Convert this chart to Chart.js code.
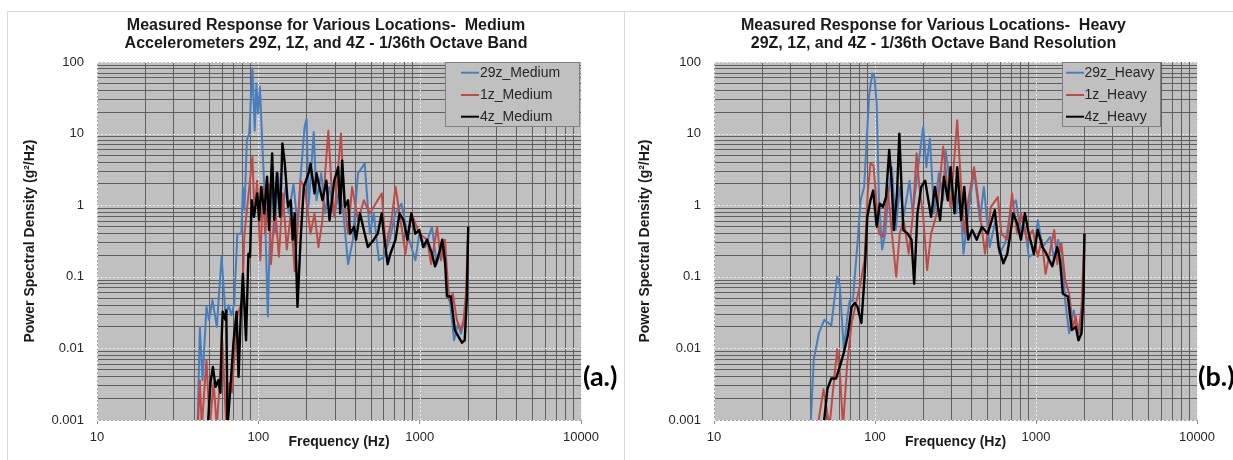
<!DOCTYPE html>
<html>
<head>
<meta charset="utf-8">
<title>Measured Response for Various Locations</title>
<script src="https://cdn.jsdelivr.net/npm/chart.js@4"></script>
<style>
  body { margin: 0; background: #fff; width: 1233px; height: 460px; overflow: hidden; position: relative; }
  .panel { position: absolute; top: 11px; height: 460px; border-top: 1px solid #d9d9d9; border-left: 1px solid #d9d9d9; background: #fff; }
  #panelA { left: 7px; width: 616px; }
  #panelB { left: 624px; width: 608px; }
  canvas { display: block; }
</style>
</head>
<body>
<div class="panel" id="panelA"><canvas id="chartA" width="616" height="448"></canvas></div>
<div class="panel" id="panelB"><canvas id="chartB" width="608" height="448"></canvas></div>
<script>
// ---- data: frequency (Hz) / PSD (g^2/Hz) pairs per accelerometer ----
const seriesNames = ['29z', '1z', '4z'];
const freqDecades = [10, 100, 1000, 10000];
const psdDecades = [0.001, 0.01, 0.1, 1, 10, 100];
const gridSteps = [1, 2, 3, 4, 5, 6, 7, 8, 9];

// Medium
const freqMed29 = [42, 43.4, 45.1, 47.7, 49.4, 52, 55.3, 59.2, 62.6, 65.5, 68.1, 70.9, 74.1, 78.5, 80.2, 82, 84.9, 87.8, 91.9, 95, 97.2, 99.5, 102.3, 105.8, 108.9, 114.5, 118.5, 123.3, 126.8, 132.6, 139.6, 147.6, 154.5, 165.3, 174.8, 182.8, 193.5, 199.1, 204.8, 214.4, 220.5, 229.3, 245.5, 259.5, 274.9, 295.6, 316.4, 336.5, 360, 385.5, 414.8, 456.4, 491, 519.6, 559.2, 598.9, 651, 708.4, 771.5, 839.7, 940, 994.6, 1082, 1191, 1275, 1380, 1476, 1562, 1633, 1729, 1799, 1902, 1991];
const psdMed29 = [0.0008, 0.020, 0.0036, 0.038, 0.025, 0.047, 0.020, 0.19, 0.028, 0.040, 0.029, 0.042, 0.40, 0.40, 1.8, 0.85, 8.1, 10, 81, 11, 50, 19, 45, 7.3, 1.8, 0.028, 0.62, 2.2, 0.40, 2.8, 0.69, 1.8, 0.77, 2.0, 0.50, 2.5, 12.4, 16, 0.95, 4.2, 10.5, 1.17, 2.8, 0.77, 1.8, 0.69, 1.6, 0.77, 0.15, 0.33, 2.8, 3.8, 0.40, 0.77, 0.17, 0.19, 0.33, 0.77, 1.05, 0.40, 0.17, 0.40, 0.26, 0.50, 0.15, 0.26, 0.10, 0.034, 0.013, 0.022, 0.016, 0.025, 0.11];

const freqMed1 = [42.2, 43.4, 44.6, 47.7, 50, 52.8, 55.3, 59.8, 63.3, 66.2, 68.5, 74.1, 79.4, 82, 91.9, 94.5, 98.4, 102.9, 107, 110.1, 116.5, 119.8, 126.8, 134.1, 141.8, 150.1, 158.9, 168, 182.8, 193.5, 210.7, 222.9, 235.9, 249.6, 259.5, 271.7, 284.1, 295.6, 325.3, 340.3, 360, 381.2, 414.8, 451.3, 491, 582, 615.8, 669.6, 708.4, 771.5, 816.3, 888.7, 994.6, 1113, 1178, 1282, 1356, 1435, 1518, 1606, 1699, 1799, 1871, 1936, 1991];
const psdMed1 = [0.0008, 0.0036, 0.0008, 0.0069, 0.0008, 0.0033, 0.0008, 0.013, 0.0008, 0.0033, 0.0024, 0.028, 0.047, 0.40, 4.7, 0.77, 2.2, 0.17, 1.8, 0.40, 2.0, 0.15, 0.95, 0.19, 1.46, 0.24, 0.77, 0.12, 2.2, 1.8, 0.40, 0.77, 0.26, 0.62, 2.8, 11, 1.8, 0.69, 10, 1.17, 0.40, 1.8, 0.62, 1.17, 0.77, 1.46, 0.26, 0.62, 1.8, 0.50, 0.21, 0.77, 0.40, 0.33, 0.15, 0.50, 0.17, 0.33, 0.047, 0.058, 0.025, 0.018, 0.025, 0.058, 0.34];

const freqMed4 = [48.6, 50.5, 52.3, 54.3, 56.5, 58.2, 59.2, 60.1, 62.6, 63.3, 64.4, 68.1, 70.1, 73.3, 75.4, 77.6, 80.2, 83.9, 86.8, 88.8, 90.9, 94, 98.4, 101.2, 104, 108.9, 113.3, 116.5, 121.8, 125.4, 130.4, 136.4, 141, 145.9, 152.7, 158.9, 163.4, 168, 174.8, 182.8, 191.3, 204.8, 210.7, 222.9, 229.3, 249.6, 264, 276.3, 295.6, 312.8, 321.7, 330.8, 344.2, 360, 370.5, 392, 403.3, 426.7, 456.4, 477.3, 519.6, 549.9, 582, 598.9, 632.9, 658.7, 708.4, 749.8, 793.6, 839.7, 888.7, 940, 994.6, 1052, 1113, 1191, 1246, 1318, 1380, 1435, 1476, 1562, 1652, 1729, 1829, 1902, 1958, 2000];
const psdMed4 = [0.0008, 0.0033, 0.0055, 0.0029, 0.0036, 0.0024, 0.013, 0.0325, 0.025, 0.034, 0.0008, 0.0045, 0.012, 0.0325, 0.004, 0.025, 0.11, 0.013, 0.21, 0.19, 1.17, 0.69, 1.46, 0.62, 1.8, 0.77, 2.5, 0.45, 5.3, 0.62, 2.8, 0.69, 7.3, 3.8, 0.95, 1.17, 0.33, 0.77, 0.038, 0.33, 1.8, 2.8, 3.8, 1.46, 2.8, 1.17, 2.2, 0.62, 2.2, 3.4, 0.77, 4.2, 0.95, 1.17, 0.40, 0.50, 0.33, 0.77, 0.40, 0.26, 0.33, 0.40, 0.77, 0.40, 0.15, 0.21, 0.33, 0.77, 0.62, 0.33, 0.77, 0.40, 0.45, 0.26, 0.33, 0.21, 0.14, 0.21, 0.33, 0.17, 0.053, 0.053, 0.018, 0.015, 0.012, 0.013, 0.047, 0.50];

// Heavy
const freqHvy29 = [39.8, 41.6, 44.8, 48.4, 53.5, 58.2, 60.5, 64, 67, 69.6, 72.8, 77.9, 81.4, 85.6, 92.1, 96.3, 99.1, 102.4, 105.9, 110.7, 115.8, 121.1, 127.4, 134.6, 142.5, 150.7, 163.8, 171.4, 188.6, 199.3, 208.5, 219.3, 232.9, 249.3, 265.1, 274.4, 294.6, 320.6, 335.3, 354.4, 375.1, 412.3, 448.6, 474.4, 515.6, 560.8, 593, 645, 701.5, 750.3, 806.7, 853.2, 902.3, 970, 1026, 1097, 1227, 1298, 1372, 1451, 1518, 1606, 1717, 1796, 1877, 1972];
const psdHvy29 = [0.0008, 0.0069, 0.0163, 0.025, 0.021, 0.10, 0.073, 0.0097, 0.025, 0.046, 0.046, 0.30, 1.17, 1.8, 36, 69, 65, 26, 1.17, 0.24, 0.40, 1.46, 3.4, 0.45, 1.8, 0.69, 2.2, 0.77, 4.7, 12.4, 3.4, 8.5, 0.77, 2.8, 1.17, 5.9, 1.8, 0.77, 1.8, 0.21, 0.62, 3.1, 0.62, 1.8, 0.26, 0.62, 0.21, 0.30, 0.95, 1.17, 0.40, 0.50, 0.19, 0.21, 0.62, 0.26, 0.36, 0.17, 0.33, 0.21, 0.047, 0.0163, 0.034, 0.018, 0.0163, 0.047];

const freqHvy1 = [44, 47.9, 52.1, 58.2, 60.5, 63.3, 67, 71.6, 77, 81.4, 86.1, 90.1, 93.7, 97.9, 101.9, 105.9, 112, 119.8, 123.9, 135.4, 142.5, 150.7, 162.1, 171.4, 181.3, 188.6, 199.3, 210.8, 222.9, 242.5, 265.1, 278.8, 294.6, 324.2, 342.7, 358.6, 379.4, 412.3, 448.6, 482.2, 524.4, 579.8, 609.8, 663.2, 709.6, 762.6, 806.7, 877.4, 954.4, 1026, 1085, 1147, 1298, 1357, 1436, 1518, 1606, 1698, 1766, 1835, 1918, 2000];
const psdHvy1 = [0.0008, 0.0027, 0.0008, 0.0097, 0.0045, 0.0008, 0.0056, 0.0227, 0.047, 0.082, 0.17, 1.46, 3.8, 3.6, 1.17, 0.40, 0.36, 1.8, 0.77, 0.10, 0.40, 0.62, 0.21, 0.69, 5.3, 1.8, 0.69, 0.124, 0.40, 0.77, 6.6, 2.2, 0.95, 15.4, 1.8, 0.40, 1.17, 3.4, 0.77, 0.21, 0.95, 1.3, 0.40, 0.33, 1.46, 0.40, 0.77, 0.33, 0.45, 0.19, 0.33, 0.11, 0.45, 0.15, 0.30, 0.09, 0.058, 0.020, 0.028, 0.0163, 0.038, 0.40];

const freqHvy4 = [47.9, 50.6, 53.5, 57.3, 60.5, 64, 67.7, 71.6, 74.9, 77.9, 82.3, 86.1, 89.6, 93.7, 97.4, 102.4, 107.1, 112, 117.1, 122.5, 126.7, 130.9, 137, 141.6, 149.9, 159.3, 168.5, 175.2, 183.4, 193.9, 205, 222.9, 235.5, 253.6, 268.1, 283.4, 294.6, 311.7, 324.2, 342.7, 358.6, 379.4, 401.2, 428.7, 461.3, 501.5, 554.6, 586.4, 627.1, 663.2, 693.4, 721.6, 762.6, 806.7, 853.2, 902.3, 970, 1026, 1097, 1160, 1262, 1357, 1411, 1468, 1578, 1668, 1766, 1835, 1918, 1972, 2000];
const psdHvy4 = [0.0008, 0.0027, 0.0038, 0.0038, 0.0056, 0.0087, 0.015, 0.038, 0.043, 0.038, 0.0227, 0.10, 0.69, 1.17, 1.6, 0.50, 1.05, 0.95, 1.3, 5.9, 2.2, 0.45, 1.46, 10, 0.45, 0.40, 0.33, 0.08, 0.77, 1.8, 2.2, 0.69, 1.8, 0.62, 2.5, 1.17, 3.4, 0.77, 3.4, 0.62, 1.8, 0.33, 0.45, 0.33, 0.50, 0.40, 0.85, 0.26, 0.154, 0.21, 0.40, 0.77, 0.56, 0.33, 0.77, 0.40, 0.21, 0.45, 0.26, 0.21, 0.14, 0.26, 0.17, 0.058, 0.053, 0.018, 0.020, 0.013, 0.0163, 0.058, 0.40];

const titleMedium = ['Measured Response for Various Locations-  Medium', 'Accelerometers 29Z, 1Z, and 4Z - 1/36th Octave Band'];
const titleHeavy = ['Measured Response for Various Locations-  Heavy', '29Z, 1Z, and 4Z - 1/36th Octave Band Resolution'];

// ---- styling ----
const FONT = '"Liberation Sans", Arial, sans-serif';
const lineColors = ['#4a7ebb', '#be4b48', '#000000'];
const lineWidths = [2, 2, 2.4];
Chart.defaults.font.family = FONT;

const points = (f, p) => f.map((x, i) => ({ x, y: p[i] }));
const isDecade = v => Math.abs(Math.log10(v) - Math.round(Math.log10(v))) < 1e-6;

// gray plot area
const plotBackground = {
  id: 'plotBackground',
  beforeDraw(chart) {
    const { ctx, chartArea: a } = chart;
    ctx.save();
    ctx.fillStyle = '#c0c0c0';
    ctx.fillRect(a.left, a.top, a.right - a.left, a.bottom - a.top);
    ctx.restore();
  }
};

// dotted light lines on every decade (the minor lines come from the scale grid)
const decadeLines = {
  id: 'decadeLines',
  beforeDatasetsDraw(chart) {
    const { ctx, chartArea: a, scales: { x, y } } = chart;
    ctx.save();
    ctx.strokeStyle = '#ececec';
    ctx.lineWidth = 1;
    ctx.setLineDash([2, 2]);
    ctx.beginPath();
    freqDecades.forEach(f => {
      const px = Math.round(x.getPixelForValue(f)) + 0.5;
      ctx.moveTo(px, a.top); ctx.lineTo(px, a.bottom);
    });
    psdDecades.forEach(v => {
      const py = Math.round(y.getPixelForValue(v)) + 0.5;
      ctx.moveTo(a.left, py); ctx.lineTo(a.right, py);
    });
    ctx.stroke();
    ctx.restore();
  }
};

// two-line heading, centred on the panel rather than on the plot
const panelTitle = {
  id: 'panelTitle',
  afterDraw(chart, args, opts) {
    const { ctx } = chart;
    ctx.save();
    ctx.font = 'bold 16px ' + FONT;
    ctx.fillStyle = '#1a1a1a';
    ctx.textAlign = 'center';
    ctx.textBaseline = 'middle';
    opts.lines.forEach((t, i) => ctx.fillText(t, opts.x, opts.y + i * 18.4));
    ctx.restore();
  }
};

// boxed legend inside the plot, Excel style
const boxLegend = {
  id: 'boxLegend',
  afterDatasetsDraw(chart, args, opts) {
    const { ctx, chartArea: a } = chart;
    const x = a.right - opts.rightGap - opts.width;
    const y = a.top;
    ctx.save();
    ctx.fillStyle = '#c0c0c0';
    ctx.fillRect(x, y, opts.width, opts.height);
    ctx.strokeStyle = '#7f7f7f';
    ctx.lineWidth = 1;
    ctx.strokeRect(Math.round(x) + 0.5, Math.round(y) + 0.5, opts.width - 1, opts.height - 1);
    ctx.font = '14px ' + FONT;
    ctx.textBaseline = 'middle';
    chart.data.datasets.forEach((ds, i) => {
      const ry = y + opts.rows[i];
      ctx.strokeStyle = ds.borderColor;
      ctx.lineWidth = 2;
      ctx.beginPath();
      ctx.moveTo(x + opts.sample[0], ry);
      ctx.lineTo(x + opts.sample[1], ry);
      ctx.stroke();
      ctx.fillStyle = '#262626';
      ctx.fillText(ds.label, x + opts.textX, ry);
    });
    ctx.restore();
  }
};

// "(a.)" / "(b.)" panel tag
const panelTag = {
  id: 'panelTag',
  afterDraw(chart, args, opts) {
    const { ctx } = chart;
    ctx.save();
    ctx.font = 'bold 27px Lato, "Open Sans", sans-serif';
    ctx.fillStyle = '#000';
    ctx.textBaseline = 'middle';
    ctx.fillText(opts.text, opts.x, opts.y);
    ctx.restore();
  }
};

function logTicks(decades) {
  const ticks = [];
  decades.forEach((d, i) => {
    if (i === decades.length - 1) { ticks.push({ value: d, major: true }); return; }
    gridSteps.forEach(s => ticks.push({ value: +(s * d).toPrecision(6), major: s === 1 }));
  });
  return ticks;
}

function decadeLabel(v) {
  return isDecade(v) ? String(+v.toPrecision(3)) : '';
}

function makeChart(id, cfg) {
  const datasets = cfg.series.map((s, i) => ({
    label: seriesNames[i] + cfg.suffix,
    data: points(s[0], s[1]),
    borderColor: lineColors[i],
    borderWidth: lineWidths[i],
    pointRadius: 0,
    tension: 0,
    fill: false,
    borderJoinStyle: 'round',
    order: 3 - i
  }));

  const gridColor = c => (c.tick && isDecade(c.tick.value)) ? 'rgba(0,0,0,0)' : '#5f5f5f';

  return new Chart(document.getElementById(id), {
    type: 'line',
    data: { datasets },
    plugins: [plotBackground, decadeLines, boxLegend, panelTitle, panelTag],
    options: {
      responsive: false,
      animation: false,
      devicePixelRatio: 1,
      layout: { padding: { left: 0, right: cfg.padRight, top: 50, bottom: 0 } },
      plugins: {
        legend: { display: false },
        tooltip: { enabled: false },
        title: { display: false },
        panelTitle: cfg.title,
        boxLegend: cfg.legend,
        panelTag: cfg.tag
      },
      scales: {
        x: {
          type: 'logarithmic',
          min: 10,
          max: 10000,
          afterBuildTicks: s => { s.ticks = logTicks(freqDecades); },
          afterFit: s => { s.height = 40; },
          border: { color: '#a6a6a6' },
          grid: {
            color: gridColor,
            lineWidth: 1,
            tickLength: 4,
            tickColor: c => (c.tick && isDecade(c.tick.value)) ? '#8c8c8c' : 'rgba(0,0,0,0)'
          },
          ticks: {
            autoSkip: false,
            maxRotation: 0,
            padding: 6,
            color: '#262626',
            font: { size: 13 },
            callback: decadeLabel
          },
          title: {
            display: true,
            text: 'Frequency (Hz)',
            color: '#1a1a1a',
            font: { size: 14, weight: 'bold' },
            padding: { top: 0, bottom: 9 }
          }
        },
        y: {
          type: 'logarithmic',
          min: 0.001,
          max: 100,
          afterBuildTicks: s => { s.ticks = logTicks(psdDecades); },
          afterFit: s => { s.width = 89; },
          border: { color: '#a6a6a6' },
          grid: { color: gridColor, lineWidth: 1, drawTicks: false },
          ticks: {
            autoSkip: false,
            padding: 13,
            color: '#262626',
            font: { size: 13 },
            callback: decadeLabel
          },
          title: {
            display: true,
            text: 'Power Spectral Density (g²/Hz)',
            color: '#1a1a1a',
            font: { size: 14, weight: 'bold' },
            padding: { top: cfg.yTitlePad, bottom: 0 }
          }
        }
      }
    }
  });
}

makeChart('chartA', {
  title: { lines: titleMedium, x: 318, y: 13.2 },
  suffix: '_Medium',
  series: [[freqMed29, psdMed29], [freqMed1, psdMed1], [freqMed4, psdMed4]],
  padRight: 43, yTitlePad: 13.3,
  legend: { width: 135, height: 65, rightGap: 1, rows: [10.7, 33, 54.7], sample: [16, 34], textX: 35 },
  tag: { text: '(a.)', x: 575, y: 365 }
});

makeChart('chartB', {
  title: { lines: titleHeavy, x: 308.5, y: 13.2 },
  suffix: '_Heavy',
  series: [[freqHvy29, psdHvy29], [freqHvy1, psdHvy1], [freqHvy4, psdHvy4]],
  padRight: 36, yTitlePad: 11.6,
  legend: { width: 99, height: 65, rightGap: 36, rows: [10.7, 33, 54.7], sample: [4, 22], textX: 22.5 },
  tag: { text: '(b.)', x: 573, y: 365 }
});
</script>
</body>
</html>
